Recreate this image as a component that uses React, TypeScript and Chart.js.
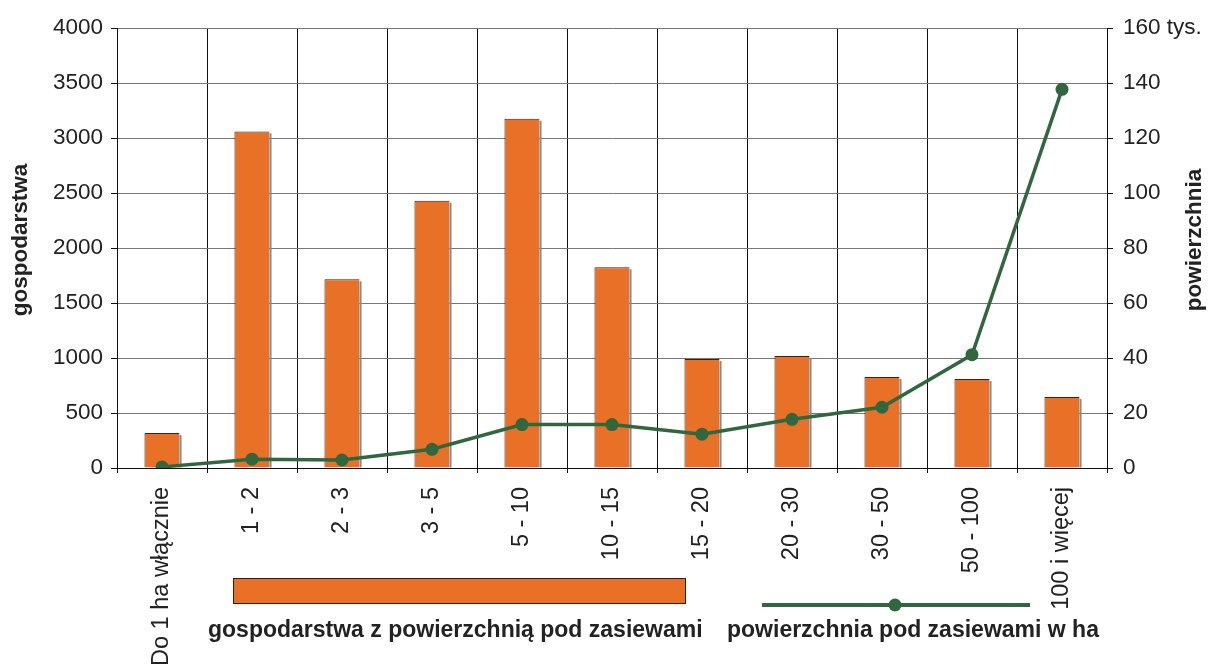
import React, { useEffect, useRef } from "react";
import { Chart, registerables } from "chart.js";

Chart.register(...registerables);

const categories = [
  "Do 1 ha włącznie",
  "1 - 2",
  "2 - 3",
  "3 - 5",
  "5 - 10",
  "10 - 15",
  "15 - 20",
  "20 - 30",
  "30 - 50",
  "50 - 100",
  "100 i więcej",
];
const farms = [318, 3060, 1715, 2430, 3175, 1825, 990, 1018, 827, 808, 645];
const area = [0.4, 3.2, 2.9, 6.8, 15.8, 15.8, 12.3, 17.7, 22.1, 41.2, 137.7];
const leftTicks = [0, 500, 1000, 1500, 2000, 2500, 3000, 3500, 4000];
const rightTicks = [0, 20, 40, 60, 80, 100, 120, 140, 160];

const ORANGE = "#E87027";
const GREEN = "#31673F";
const FONT = "'Liberation Sans', Arial, sans-serif";

const shadowPlugin = {
  id: "barShadow",
  afterDatasetDraw(chart: any, args: any) {
    const meta = args.meta;
    if (meta.type !== "bar") return;
    const ctx = chart.ctx;
    ctx.save();
    ctx.fillStyle = "#8a8a8a";
    meta.data.forEach((bar: any) => {
      const half = bar.width / 2;
      const x = bar.x + half;
      ctx.fillRect(x, bar.y + 2, 2, bar.base - bar.y - 2);
    });
    ctx.restore();
  },
};

const overlayPlugin = {
  id: "overlay",
  afterDraw(chart: any) {
    const ctx = chart.ctx;
    ctx.save();
    ctx.fillStyle = "#222";
    ctx.font = `bold 22.5px ${FONT}`;
    ctx.textAlign = "center";
    ctx.textBaseline = "middle";
    ctx.save();
    ctx.translate(21, 240);
    ctx.rotate(-Math.PI / 2);
    ctx.fillText("gospodarstwa", 0, 0);
    ctx.restore();
    ctx.save();
    ctx.translate(1195, 240);
    ctx.rotate(-Math.PI / 2);
    ctx.fillText("powierzchnia", 0, 0);
    ctx.restore();

    ctx.font = `bold 23px ${FONT}`;
    ctx.fillStyle = ORANGE;
    ctx.fillRect(233, 578, 452, 25);
    ctx.strokeStyle = "#3a1a08";
    ctx.lineWidth = 1;
    ctx.strokeRect(233.5, 578.5, 452, 25);
    ctx.fillStyle = "#222";
    ctx.textAlign = "left";
    ctx.fillText("gospodarstwa z powierzchnią pod zasiewami", 208, 631);

    ctx.strokeStyle = GREEN;
    ctx.lineWidth = 4;
    ctx.beginPath();
    ctx.moveTo(762, 605);
    ctx.lineTo(1030, 605);
    ctx.stroke();
    ctx.fillStyle = GREEN;
    ctx.beginPath();
    ctx.arc(895, 605, 6.5, 0, Math.PI * 2);
    ctx.fill();
    ctx.fillStyle = "#222";
    ctx.fillText("powierzchnia pod zasiewami w ha", 727, 631);
    ctx.restore();
  },
};

export default function App() {
  const ref = useRef<HTMLCanvasElement | null>(null);
  useEffect(() => {
    document.body.style.margin = "0";
    const canvas = ref.current;
    if (!canvas) return;
    const chart = new Chart(canvas, {
      type: "bar",
      data: {
        labels: categories,
        datasets: [
          {
            type: "line",
            label: "powierzchnia pod zasiewami w ha",
            data: area,
            yAxisID: "y1",
            borderColor: GREEN,
            backgroundColor: GREEN,
            borderWidth: 3.5,
            pointRadius: 6.5,
            pointBackgroundColor: GREEN,
            pointBorderWidth: 0,
            tension: 0,
            order: 0,
          } as any,
          {
            type: "bar",
            label: "gospodarstwa z powierzchnią pod zasiewami",
            data: farms,
            yAxisID: "y",
            backgroundColor: ORANGE,
            borderColor: "#4a1e06",
            borderWidth: { top: 1, left: 1, right: 0, bottom: 0 },
            borderSkipped: false,
            barPercentage: 0.39,
            categoryPercentage: 1,
            order: 1,
          } as any,
        ],
      },
      options: {
        responsive: false,
        animation: false,
        layout: { padding: { top: 28, left: 0, right: 0, bottom: 0 } },
        plugins: {
          legend: { display: false },
          tooltip: { enabled: false },
        },
        scales: {
          x: {
            offset: true,
            grid: {
              offset: true,
              color: "#111",
              lineWidth: 1,
              drawTicks: true,
              tickLength: 5,
            },
            border: { display: true, color: "#111" },
            ticks: {
              minRotation: 90,
              maxRotation: 90,
              color: "#222",
              font: { family: FONT, size: 23.5 },
              padding: 14,
              autoSkip: false,
            },
            afterFit(scale: any) {
              scale.height = 198;
            },
          },
          y: {
            position: "left",
            min: 0,
            max: 4000,
            afterBuildTicks(scale: any) {
              scale.ticks = leftTicks.map((v) => ({ value: v }));
            },
            grid: { color: "#777", lineWidth: 1, tickLength: 6, tickColor: "#111" },
            border: { display: true, color: "#111" },
            ticks: {
              color: "#222",
              font: { family: FONT, size: 22.5 },
              padding: 8,
              callback: (v: any) => String(v),
            },
            afterFit(scale: any) {
              scale.width = 117;
            },
          },
          y1: {
            position: "right",
            min: 0,
            max: 160,
            afterBuildTicks(scale: any) {
              scale.ticks = rightTicks.map((v) => ({ value: v }));
            },
            grid: { drawOnChartArea: false, tickLength: 6, color: "#111" },
            border: { display: true, color: "#111" },
            ticks: {
              color: "#222",
              font: { family: FONT, size: 22.5 },
              padding: 10,
              callback: (v: any) => (v === 160 ? "160 tys." : String(v)),
            },
            afterFit(scale: any) {
              scale.width = 101;
            },
          },
        },
      },
      plugins: [shadowPlugin, overlayPlugin],
    });
    return () => chart.destroy();
  }, []);
  return (
    <div style={{ width: 1208, height: 666, background: "#fff" }}>
      <canvas ref={ref} width={1208} height={666} style={{ display: "block" }} />
    </div>
  );
}
